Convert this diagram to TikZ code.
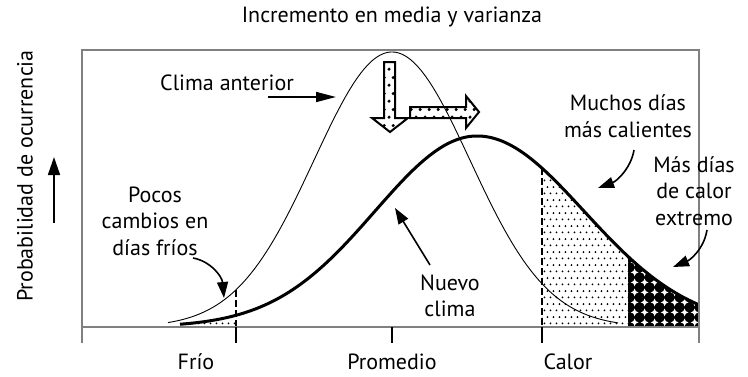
\documentclass[tikz,border=0pt]{standalone}
\usepackage{fontspec}
\setmainfont{PT Sans}
\usetikzlibrary{arrows.meta,patterns}

\pgfdeclarepatternformonly{finedots}{\pgfqpoint{0pt}{0pt}}{\pgfqpoint{6.4pt}{12.8pt}}{\pgfqpoint{6.4pt}{12.8pt}}{%
  \pgfpathcircle{\pgfqpoint{1.6pt}{1.6pt}}{1.05pt}%
  \pgfpathcircle{\pgfqpoint{4.8pt}{8pt}}{1.05pt}%
  \pgfusepath{fill}}
\pgfdeclarepatternformonly{arrowdots}{\pgfqpoint{0pt}{0pt}}{\pgfqpoint{9pt}{16pt}}{\pgfqpoint{9pt}{16pt}}{%
  \pgfpathcircle{\pgfqpoint{2.25pt}{4pt}}{1.8pt}%
  \pgfpathcircle{\pgfqpoint{6.75pt}{12pt}}{1.8pt}%
  \pgfusepath{fill}}
\pgfdeclarepatternformonly{bigcircles}{\pgfqpoint{0pt}{0pt}}{\pgfqpoint{10pt}{10pt}}{\pgfqpoint{10pt}{10pt}}{%
  \pgfpathcircle{\pgfqpoint{0pt}{0pt}}{5.1pt}%
  \pgfpathcircle{\pgfqpoint{10pt}{0pt}}{5.1pt}%
  \pgfpathcircle{\pgfqpoint{0pt}{10pt}}{5.1pt}%
  \pgfpathcircle{\pgfqpoint{10pt}{10pt}}{5.1pt}%
  \pgfusepath{fill}}

\tikzset{
  lbl/.style={inner sep=0pt, align=center, font=\fontsize{22}{26.5}\selectfont},
  arr/.style={-{Triangle[length=16pt,width=11pt]}, line width=1.6pt},
  frame/.style={draw=black!50, line width=1.5pt},
  thincurve/.style={line width=0.9pt},
  thickcurve/.style={line width=3pt},
  blockarrow/.style={draw=black, line width=2pt, pattern=arrowdots, line join=miter},
  cut/.style={line width=1.6pt, dash pattern=on 7pt off 3pt},
}

\begin{document}
\begin{tikzpicture}[x=1pt,y=-1pt,
  declare function={
    thinc(\t)=327-275*exp(-0.5*((\t-392)/78)*((\t-392)/78));
    thl(\t)=327-191*exp(-0.5*((\t-477)/102)*((\t-477)/102));
    thr(\t)=327-191*exp(-0.5*((\t-477)/107)*((\t-477)/107));
  }]
\useasboundingbox (0,0) rectangle (748,376);

% shaded regions
\fill[pattern=finedots] (180,327) -- plot[domain=180:236,samples=25] (\x,{thl(\x)}) -- (236,327) -- cycle;
\fill[pattern=finedots] (542,327) -- plot[domain=542:628,samples=30] (\x,{thr(\x)}) -- (628,327) -- cycle;
\fill[pattern=bigcircles] (628,327) -- plot[domain=628:699,samples=30] (\x,{thr(\x)}) -- (699,327) -- cycle;

% curves
\draw[thincurve] plot[domain=168:618,samples=120] (\x,{thinc(\x)});
\draw[thickcurve] plot[domain=180:477,samples=90] (\x,{thl(\x)}) -- plot[domain=477:699,samples=70] (\x,{thr(\x)});

% dashed cuts
\draw[cut] (236,{thinc(236)}) -- (236,327);
\draw[cut] (542,{thr(542)}) -- (542,327);

% frame and axis
\draw[frame] (82,343) -- (82,50) -- (699,50) -- (699,343);
\draw[frame] (82,327) -- (699,327);
\draw[black, line width=1.2pt] (236,327) -- (236,343);
\draw[black, line width=1.2pt] (392,327) -- (392,343);
\draw[black, line width=1.2pt] (542,327) -- (542,343);

% block arrows
\draw[blockarrow] (384,62) -- (395,62) -- (395,118) -- (408,118) -- (390,132) -- (372,118) -- (384,118) -- cycle;
\draw[blockarrow] (410,107) -- (466,107) -- (466,96) -- (479,112) -- (466,128) -- (466,118) -- (410,118) -- cycle;

% texts
\node[lbl] (title) at (392,17) {Incremento en media y varianza};
\node[lbl, rotate=90] (ylab) at (25,176) {Probabilidad de ocurrencia};
\node[lbl] (clima) at (227,83) {Clima anterior};
\node[lbl] (pocos) at (155,221) {Pocos\\cambios en\\días fríos};
\node[lbl] (nuevo) at (450,296) {Nuevo\\clima};
\node[lbl] (muchos) at (628,116) {Muchos días\\más calientes};
\node[lbl] (extremo) at (694,191) {Más días\\de calor\\extremo};
\node[lbl] (frio) at (196,362) {Frío};
\node[lbl] (prom) at (392,362) {Promedio};
\node[lbl] (calor) at (568,362) {Calor};

% connectors
\coordinate (ybot) at (54,223);
\coordinate (ytop) at (54,157);
\draw[arr, -{Triangle[length=18pt,width=12pt]}] (ybot) -- (ytop);

\coordinate (caS) at (268,97);
\coordinate (caT) at (336,97);
\draw[arr, -{Triangle[length=20pt,width=10pt]}] (caS) -- (caT);

\coordinate (poS) at (193,258);
\coordinate (poT) at (224,298);
\draw[arr] (poS) .. controls (210,261) and (222,276) .. (poT);

\coordinate (nuS) at (430,265);
\coordinate (nuT) at (395,208);
\draw[arr] (nuS) -- (nuT);

\coordinate (muS) at (634,150);
\coordinate (muT) at (598,188);
\draw[arr] (muS) .. controls (631,168) and (617,181) .. (muT);

\coordinate (exS) at (707,230);
\coordinate (exT) at (673,267);
\draw[arr] (exS) .. controls (704,249) and (690,260) .. (exT);
\end{tikzpicture}
\end{document}
